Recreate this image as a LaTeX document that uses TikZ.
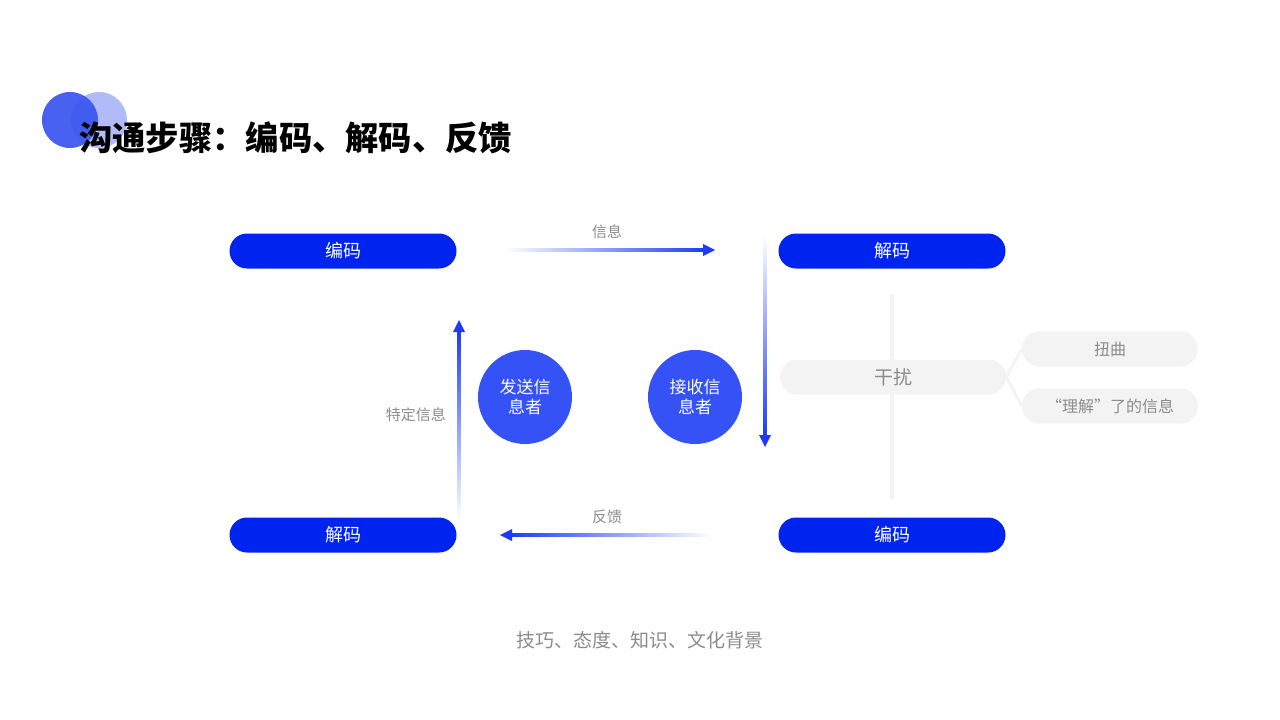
\documentclass[tikz,border=0pt]{standalone}
\usepackage{fontspec}
\setmainfont{Noto Sans CJK SC}
\usetikzlibrary{calc}
\definecolor{pillblue}{RGB}{0,36,240}
\definecolor{arrblue}{RGB}{30,58,245}
\definecolor{circblue}{RGB}{52,82,245}
\definecolor{darkdot}{RGB}{58,84,240}
\definecolor{lightdot}{RGB}{176,187,248}
\definecolor{pale}{RGB}{243,243,243}
\definecolor{labgray}{RGB}{140,140,140}
\tikzset{
  pill/.style={rectangle, rounded corners=17.5pt, minimum width=227pt, minimum height=35pt,
    inner sep=0pt, fill=pillblue, text=white, font=\fontsize{18}{20}\selectfont},
  graypill/.style={rectangle, rounded corners=17.5pt, minimum height=35pt,
    inner sep=0pt, fill=pale, text=labgray},
  actor/.style={circle, minimum size=94pt, inner sep=0pt, fill=circblue, text=white,
    align=center, font=\fontsize{17}{20}\selectfont},
  lab/.style={text=labgray, font=\fontsize{15}{17}\selectfont, inner sep=0pt},
  head/.style={fill=arrblue},
}
\begin{document}
\begin{tikzpicture}[x=1pt,y=-1pt]
\useasboundingbox[fill=white] (0,0) rectangle (1280,720);
% title dots
\fill[lightdot] (99,120) circle (28);
\fill[darkdot, opacity=0.92] (70,120) circle (28);
\node[anchor=west, inner sep=0pt, font=\bfseries\fontsize{33.3}{37}\selectfont] (title) at (79,138) {沟通步骤：编码、解码、反馈};

% pills
\node[pill] (enc1) at (343,251) {编码};
\node[pill] (dec1) at (892,251) {解码};
\node[pill] (dec2) at (343,535) {解码};
\node[pill] (enc2) at (892,535) {编码};

% actors
\node[actor] (send) at (525,397) {发送信\\息者};
\node[actor] (recv) at (695,397) {接收信\\息者};

% arrow: 信息 (left to right)
\coordinate (a1s) at (505,250);
\coordinate (a1e) at (715,250);
\shade[left color=white, right color=arrblue] ($(a1s)+(0,-1.6)$) rectangle ($(a1e)+(-10,1.6)$);
\fill[head] (a1e) -- ($(a1e)+(-12,-6)$) -- ($(a1e)+(-12,6)$) -- cycle;
\node[lab] (l1) at (607,232) {信息};

% arrow: down on right
\coordinate (a2s) at (765,235);
\coordinate (a2e) at (765,447);
\shade[top color=white, bottom color=arrblue] ($(a2s)+(-1.6,0)$) rectangle ($(a2e)+(1.6,-10)$);
\fill[head] (a2e) -- ($(a2e)+(-6,-12)$) -- ($(a2e)+(6,-12)$) -- cycle;

% arrow: 反馈 (right to left)
\coordinate (a3s) at (712,535);
\coordinate (a3e) at (500,535);
\shade[right color=white, left color=arrblue] ($(a3e)+(10,-1.6)$) rectangle ($(a3s)+(0,1.6)$);
\fill[head] (a3e) -- ($(a3e)+(12,-6)$) -- ($(a3e)+(12,6)$) -- cycle;
\node[lab] (l3) at (607,517) {反馈};

% arrow: up on left
\coordinate (a4s) at (459,520);
\coordinate (a4e) at (459,320);
\shade[bottom color=white, top color=arrblue] ($(a4e)+(-1.6,10)$) rectangle ($(a4s)+(1.6,0)$);
\fill[head] (a4e) -- ($(a4e)+(-6,12)$) -- ($(a4e)+(6,12)$) -- cycle;
\node[lab, anchor=east] (l4) at (446,415) {特定信息};

% interference
\coordinate (vt) at (892,296);
\coordinate (vb) at (892,497);
\draw[pale, line width=4pt, line cap=round] (vt) -- (vb);
\node[graypill, minimum width=226pt, font=\fontsize{19}{21}\selectfont] (noise) at (893,377) {干扰};
\node[graypill, minimum width=176pt, font=\fontsize{16}{18}\selectfont] (dist) at (1110,349) {扭曲};
\node[graypill, minimum width=176pt, font=\fontsize{16}{18}\selectfont] (undr) at (1110,406) {“理解”了的信息};
\draw[pale, line width=3pt] (noise.east) -- (dist.west);
\draw[pale, line width=3pt] (noise.east) -- (undr.west);

% bottom
\node[text=labgray, inner sep=0pt, font=\fontsize{19}{22}\selectfont] (bg) at (640,640) {技巧、态度、知识、文化背景};
\end{tikzpicture}
\end{document}
